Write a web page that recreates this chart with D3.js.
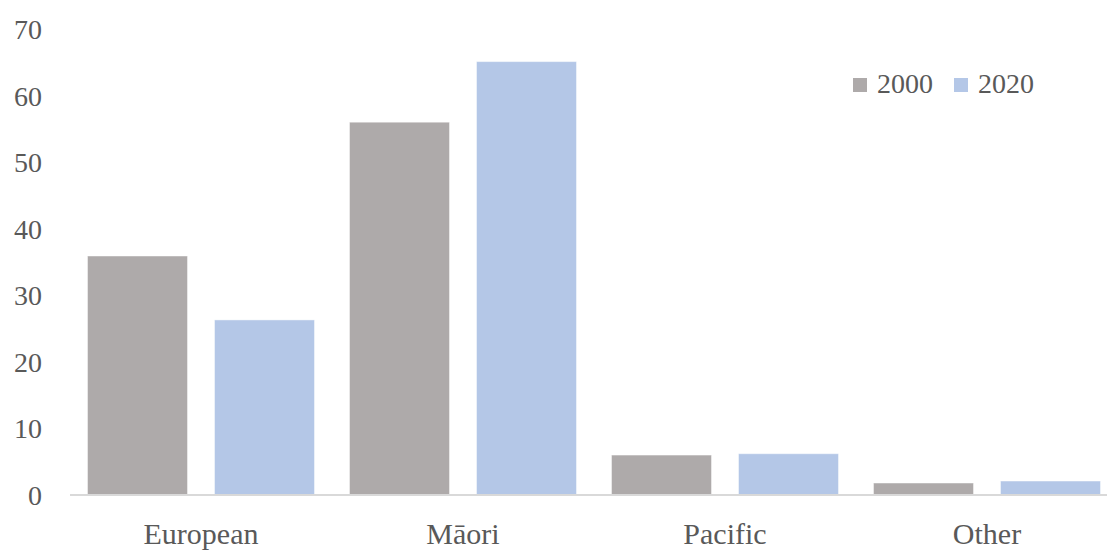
<!DOCTYPE html>
<html>
<head>
<meta charset="utf-8">
<script src="https://cdn.jsdelivr.net/npm/d3@7"></script>
<style>
  html, body { margin: 0; padding: 0; background: #ffffff; }
  svg { display: block; }
  text { font-family: "Liberation Serif", "Times New Roman", serif; fill: #595959; }
</style>
</head>
<body>
<svg id="chart" width="1107" height="550"></svg>
<script>
// Chart data
const categories = ["European", "Māori", "Pacific", "Other"];
const seriesNames = ["2000", "2020"];
const values2000 = [35.9, 56.0, 6.0, 1.8];
const values2020 = [26.3, 65.1, 6.2, 2.1];
const yTicks = [0, 10, 20, 30, 40, 50, 60, 70];
const seriesColors = ["#AEAAAA", "#B4C7E7"];

const seriesValues = [values2000, values2020];
const rows = categories.map((c, i) => ({
  category: c,
  vals: seriesNames.map((s, j) => ({ series: s, value: seriesValues[j][i], color: seriesColors[j] }))
}));

const svg = d3.select("#chart");
const left = 70, bandStep = 262;
const y0 = 495, yTop = 29;

const x0 = d3.scaleBand()
  .domain(categories)
  .range([left, left + bandStep * categories.length])
  .paddingInner(0).paddingOuter(0);

const x1 = d3.scaleBand()
  .domain(seriesNames)
  .range([0, x0.bandwidth()])
  .paddingInner(27 / 127)
  .paddingOuter(17.5 / 127);

const y = d3.scaleLinear().domain([0, 70]).range([y0, yTop]);

// Bars
const groups = svg.append("g").selectAll("g")
  .data(rows).join("g")
  .attr("transform", d => `translate(${x0(d.category)},0)`);

groups.selectAll("rect")
  .data(d => d.vals).join("rect")
  .attr("x", d => x1(d.series))
  .attr("y", d => y(d.value))
  .attr("width", x1.bandwidth())
  .attr("height", d => y(0) - y(d.value))
  .attr("fill", d => d.color)
  .attr("stroke", "#ffffff")
  .attr("stroke-opacity", 0.45)
  .attr("stroke-width", 1);

// Y axis labels (no axis line or gridlines)
const yAxis = d3.axisLeft(y).tickValues(yTicks).tickSize(0).tickPadding(0).tickFormat(d3.format("d"));
const yg = svg.append("g").attr("transform", "translate(42,0)").call(yAxis);
yg.select(".domain").remove();
yg.selectAll("text")
  .attr("font-family", "Liberation Serif, serif")
  .attr("font-size", 28)
  .attr("fill", "#595959")
  .attr("dy", "0.34em");

// X axis baseline and category labels
const xAxis = d3.axisBottom(x0).tickSize(0).tickPadding(0);
const xg = svg.append("g").attr("transform", `translate(0,${y0})`).call(xAxis);
xg.select(".domain")
  .attr("stroke", "#D9D9D9")
  .attr("stroke-width", 2)
  .attr("d", `M${left},0H${left + bandStep * categories.length}`);
xg.selectAll("text")
  .attr("font-family", "Liberation Serif, serif")
  .attr("font-size", 30)
  .attr("fill", "#595959")
  .attr("y", 49)
  .attr("dy", 0);

// Legend
const legendX = [853, 954];
const legend = svg.append("g").selectAll("g")
  .data(seriesNames).join("g")
  .attr("transform", (d, i) => `translate(${legendX[i]},0)`);
legend.append("rect")
  .attr("x", 0).attr("y", 78)
  .attr("width", 14).attr("height", 14)
  .attr("fill", (d, i) => seriesColors[i]);
legend.append("text")
  .attr("x", 24).attr("y", 93)
  .attr("font-size", 28)
  .text(d => d);
</script>
</body>
</html>
